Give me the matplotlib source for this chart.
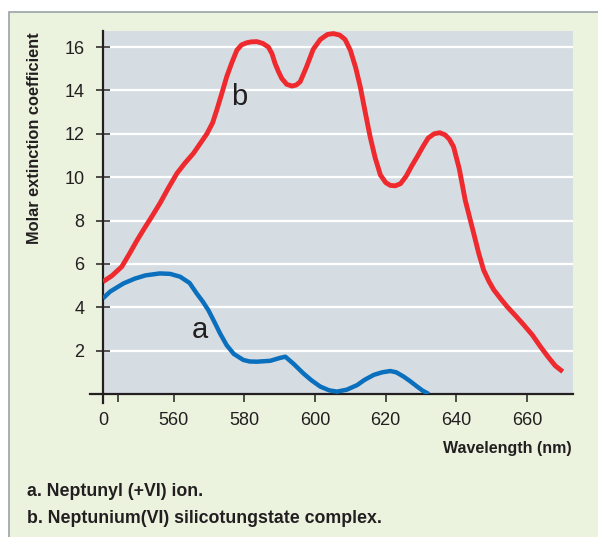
import matplotlib.pyplot as plt
from matplotlib.patches import Rectangle

# curve a: Neptunyl (+VI) ion
wl_a = [540, 542, 545.8, 549, 552, 556.1, 559, 561.8, 564.5, 566.5, 568.2, 569.8,
        571.5, 573.1, 575, 577, 579.7, 581.5, 583.5, 587.3, 590, 591.6, 594,
        596.7, 599, 601.5, 604, 606.2, 609, 611.9, 614, 616.6, 619, 621.3, 623,
        625.1, 627, 628.9, 630.5, 632.2]
eps_a = [4.41, 4.72, 5.1, 5.32, 5.47, 5.56, 5.54, 5.41, 5.12, 4.64, 4.27, 3.87,
         3.33, 2.8, 2.25, 1.85, 1.57, 1.5, 1.49, 1.53, 1.66, 1.72, 1.38,
         0.95, 0.63, 0.34, 0.17, 0.11, 0.2, 0.41, 0.65, 0.88, 1.0, 1.06, 1.0,
         0.8, 0.58, 0.34, 0.15, 0.0]

# curve b: Neptunium(VI) silicotungstate complex
wl_b = [540, 542.5, 545.3, 547.6, 549.5, 551.4, 553.8, 556.1, 558.5, 560.9,
        563.2, 565.6, 567.5, 569.4, 571, 572.2, 573.6, 575, 576.5, 577.9,
        579.2, 580.7, 582, 583.5, 585.2, 586.8, 587.8, 588.7, 589.7, 590.6,
        592, 593.5, 594.7, 595.8, 597.5, 599.5, 601.5, 603.5, 605.2, 607,
        608.5, 610, 611.5, 612.8, 614.2, 615.6, 617, 618.5, 620, 621.3,
        622.7, 624.2, 625.8, 627.3, 628.9, 630.5, 632, 633.7, 635.3, 636.8,
        638, 639.2, 640.8, 642.5, 644.9, 646.3, 647.7, 649.2, 650.6, 652.5,
        654.4, 656.8, 659.1, 661.5, 663.8, 666, 668, 670.1]
eps_b = [5.18, 5.45, 5.87, 6.5, 7.05, 7.56, 8.18, 8.79, 9.5, 10.17,
         10.65, 11.1, 11.55, 12.0, 12.5, 13.1, 13.85, 14.63, 15.3, 15.86,
         16.1, 16.2, 16.24, 16.25, 16.17, 16.0, 15.7, 15.24, 14.85, 14.55,
         14.28, 14.2, 14.25, 14.4, 15.05, 15.9, 16.35, 16.58, 16.62, 16.55,
         16.35, 15.85, 15.05, 14.17, 13.0, 11.86, 10.9, 10.1, 9.75, 9.62,
         9.6, 9.7, 10.05, 10.5, 10.94, 11.4, 11.8, 12.0, 12.05, 11.95,
         11.75, 11.4, 10.4, 8.94, 7.41, 6.5, 5.72, 5.2, 4.8, 4.4,
         4.02, 3.6, 3.18, 2.72, 2.18, 1.7, 1.3, 1.03]

x_ticks = [540, 544.3, 560, 580, 600, 620, 640, 660]
x_labels = ['0', '', '560', '580', '600', '620', '640', '660']
y_ticks = [2, 4, 6, 8, 10, 12, 14, 16]

plt.rcParams['font.family'] = ['Liberation Sans', 'DejaVu Sans']
ink = '#231f20'

fig = plt.figure(figsize=(5.98, 5.37), dpi=100, facecolor='white')
fig.patches.append(Rectangle((9 / 598, -0.05), 1.1, 1 - 12 / 537 + 0.05,
                             transform=fig.transFigure, facecolor='#ebf3df',
                             edgecolor='#9aa3a8', linewidth=1.2, zorder=-5))

ax = fig.add_axes([103 / 598, 1 - 394 / 537, 470 / 598, 363 / 537])
ax.set_facecolor('#d5dde3')

ax.plot(wl_b, eps_b, color='#ee2a2e', lw=3.5, solid_capstyle='butt',
        solid_joinstyle='round', zorder=3)
ax.plot(wl_a, eps_a, color='#0a6fbd', lw=3.2, solid_capstyle='butt',
        solid_joinstyle='round', zorder=3)

ax.set_xlim(540, 673)
ax.set_ylim(0, 16.74)
ax.set_xticks(x_ticks, labels=x_labels)
ax.set_yticks(y_ticks)
ax.grid(axis='y', color='white', lw=1.6)
ax.set_axisbelow(True)

for side in ['top', 'right']:
    ax.spines[side].set_visible(False)
for side in ['left', 'bottom']:
    ax.spines[side].set_color(ink)
    ax.spines[side].set_linewidth(1.6)
# little overhangs of the two axis lines
ax.plot([-0.028, 0], [0, 0], transform=ax.transAxes, color=ink, lw=1.6, clip_on=False)
ax.plot([0, 0], [-0.026, 0], transform=ax.transAxes, color=ink, lw=1.6, clip_on=False)

ax.tick_params(axis='y', direction='inout', length=10, width=1.1, pad=8.5,
               labelsize=13, colors=ink)
ax.tick_params(axis='x', direction='out', length=6, width=1.1, pad=7,
               labelsize=13, colors=ink)

ax.text(567.5, 2.58, 'a', fontsize=21, color=ink, ha='center', va='baseline')
ax.text(578.5, 13.32, 'b', fontsize=21, color=ink, ha='center', va='baseline')

fig.text(35 / 598, 1 - 138 / 537, 'Molar extinction coefficient', rotation=90,
         fontsize=11.8, fontweight='bold', color=ink, ha='center', va='center')
fig.text(572 / 598, 1 - 453 / 537, 'Wavelength (nm)', fontsize=11.5,
         fontweight='bold', color=ink, ha='right', va='baseline')
fig.text(27 / 598, 1 - 496 / 537, 'a. Neptunyl (+VI) ion.', fontsize=12.8,
         fontweight='bold', color=ink, ha='left', va='baseline')
fig.text(27 / 598, 1 - 523 / 537, 'b. Neptunium(VI) silicotungstate complex.',
         fontsize=12.8, fontweight='bold', color=ink, ha='left', va='baseline')

fig.savefig('out.png', dpi=100, facecolor=fig.get_facecolor())
